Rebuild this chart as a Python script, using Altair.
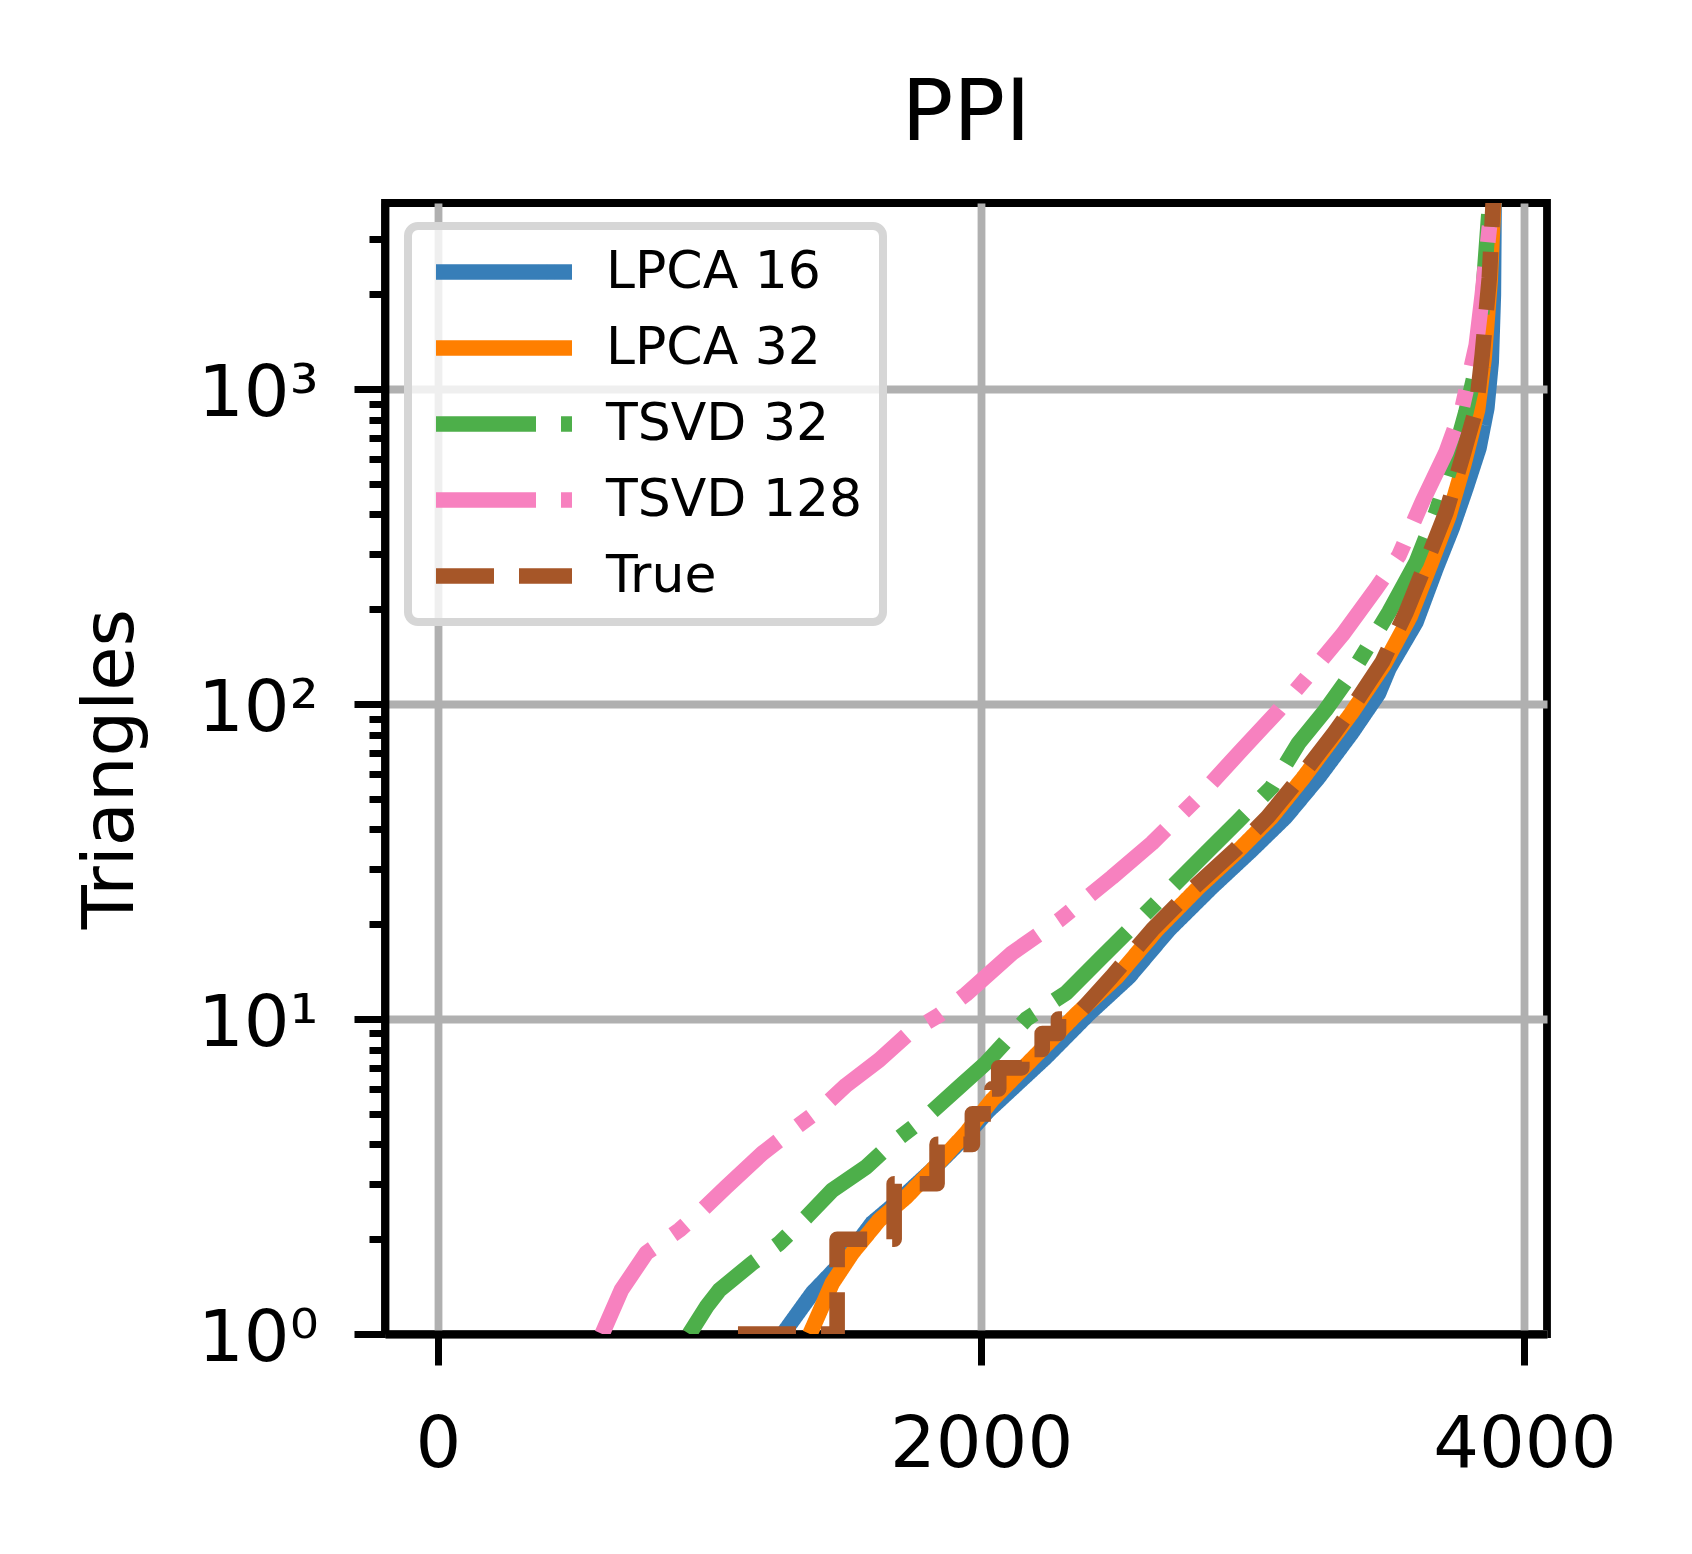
import altair as alt
import pandas as pd

# ---------------- data ----------------
series_names = ["LPCA 16", "LPCA 32", "TSVD 32", "TSVD 128", "True"]
series_colors = ["#377eb8", "#ff7f00", "#4daf4a", "#f781bf", "#a65628"]
series_dashes = [[1, 0], [1, 0], [100, 25, 16, 25], [100, 25, 16, 25], [58, 25]]

lpca16_x = [1270, 1379, 1504, 1599, 1699, 1820, 1930, 2029, 2239, 2397, 2544, 2691,
            2849, 2996, 3121, 3243, 3364, 3463, 3502, 3601, 3675, 3734, 3785, 3833,
            3862, 3878, 3886, 3889]
lpca16_y = [1.0, 1.35, 1.75, 2.25, 2.66, 3.32, 4.13, 5.14, 7.57, 10.4, 13.6, 19.2,
            26.2, 34.4, 43.8, 58.6, 80.9, 108, 130, 182, 270, 362, 485, 650,
            871, 1218, 1988, 4200]

lpca32_x = [1370, 1452, 1526, 1625, 1724, 1820, 1945, 2040, 2195, 2353, 2500, 2647,
            2801, 2949, 3070, 3188, 3309, 3365, 3485, 3580, 3655, 3722, 3778, 3828,
            3852, 3874, 3889]
lpca32_y = [1.0, 1.45, 1.81, 2.30, 2.72, 3.32, 4.35, 5.53, 7.57, 10.4, 13.6, 19.2,
            26.2, 34.4, 43.8, 58.6, 80.9, 94, 134, 190, 278, 395, 580, 860,
            1250, 2200, 4200]

tsvd32_x = [926, 989, 1037, 1158, 1257, 1357, 1452, 1577, 1673, 1798, 1919, 2018,
            2167, 2313, 2434, 2581, 2702, 2827, 2949, 3070, 3169, 3268, 3364, 3502,
            3602, 3675, 3734, 3785, 3833, 3852, 3871, 3880]
tsvd32_y = [1.0, 1.22, 1.38, 1.68, 1.94, 2.35, 2.86, 3.39, 4.04, 4.89, 6.08, 7.25,
            10.0, 12.1, 15.4, 20.6, 26.2, 33.6, 42.8, 54.5, 75.2, 95.7, 125, 196,
            282, 407, 587, 845, 1282, 2250, 3755, 4500]

tsvd128_x = [605, 676, 768, 890, 974, 1062, 1195, 1305, 1404, 1504, 1625, 1735,
             1846, 1945, 2114, 2287, 2482, 2629, 2790, 2949, 3096, 3197, 3330, 3455,
             3539, 3624, 3712, 3771, 3823, 3845, 3871, 3882, 3889]
tsvd128_y = [1.0, 1.38, 1.81, 2.14, 2.48, 2.93, 3.75, 4.44, 5.14, 6.17, 7.41, 9.03,
             10.3, 12.0, 16.2, 20.6, 28.2, 36.2, 49.6, 69.9, 95.7, 121, 166, 233,
             297, 438, 631, 871, 1380, 1988, 3245, 3755, 4500]

true_x = [1105, 1470, 1470, 1680, 1680, 1838, 1838, 1968, 1968, 2040, 2040, 2065,
          2065, 2150, 2150, 2225, 2225, 2285, 2285, 2340, 2480, 2630, 2785, 2935,
          3055, 3175, 3300, 3355, 3477, 3565, 3639, 3712, 3771, 3823, 3845, 3871, 3889]
true_y = [1, 1, 2, 2, 3, 3, 4, 4, 5, 5, 6, 6,
          7, 7, 8, 8, 9, 9, 10, 10, 13.6, 19.2, 26.2, 34.4,
          43.8, 58.6, 80.9, 94.3, 136, 196, 282, 407, 604, 871, 1282, 2250, 4500]

x_ticks = [0, 2000, 4000]
y_ticks = [1, 2, 3, 4, 5, 6, 7, 8, 9,
           10, 20, 30, 40, 50, 60, 70, 80, 90,
           100, 200, 300, 400, 500, 600, 700, 800, 900,
           1000, 2000, 3000]
y_major = [1, 10, 100, 1000]
y_major_labels = ["10⁰", "10¹", "10²", "10³"]

chart_title = "PPI"
y_title = "Triangles"

# ---------------- build table ----------------
series_xy = [(lpca16_x, lpca16_y), (lpca32_x, lpca32_y), (tsvd32_x, tsvd32_y),
             (tsvd128_x, tsvd128_y), (true_x, true_y)]
rows = []
for name, (xs, ys) in zip(series_names, series_xy):
    for i, (xv, yv) in enumerate(zip(xs, ys)):
        rows.append({"series": name, "x": xv, "y": yv, "i": i})
df = pd.DataFrame(rows)

FONT = "DejaVu Sans"
W, H = 1162, 1131
major_test = " || ".join(f"datum.value == {v}" for v in y_major)
label_expr = " : ".join(f"datum.value == {v} ? '{t}'" for v, t in zip(y_major, y_major_labels)) + " : ''"

legend = alt.Legend(
    orient="none", legendX=23, legendY=23, title=None,
    symbolType="stroke", symbolSize=18496, symbolStrokeWidth=15.6,
    labelFontSize=52, labelFont=FONT, labelColor="black", labelOffset=26,
    labelLimit=600, clipHeight=52, rowPadding=24, padding=20,
    fillColor="rgba(255,255,255,0.8)", strokeColor="#d6d6d6", cornerRadius=10,
    symbolOpacity=1,
)

x_enc = alt.X(
    "x:Q",
    scale=alt.Scale(domain=[-194.5, 4083.5], nice=False, zero=False),
    axis=alt.Axis(
        values=x_ticks, title=None, format="d", grid=True, gridColor="#b0b0b0",
        gridWidth=7.8, tickSize=31, tickWidth=7, tickColor="black",
        domain=True, domainColor="black", domainWidth=7.8,
        labelFont=FONT, labelFontSize=72, labelColor="black", labelPadding=44,
        labelFlush=False, labelOverlap=False, labelLimit=500,
    ),
)
y_enc = alt.Y(
    "y:Q",
    scale=alt.Scale(type="log", domain=[1, 3900], nice=False),
    axis=alt.Axis(
        values=y_ticks, title=y_title, labelExpr=label_expr,
        grid=True, gridColor="#b0b0b0", gridWidth=7.8,
        gridOpacity={"condition": {"test": major_test, "value": 1}, "value": 0},
        tickSize={"condition": {"test": major_test, "value": 31}, "value": 16},
        tickWidth=7, tickColor="black",
        domain=True, domainColor="black", domainWidth=7.8,
        labelFont=FONT, labelFontSize=72, labelColor="black", labelPadding=36,
        labelOffset=4, labelOverlap=False, labelBound=False, labelFlush=False,
        labelLimit=500,
        titleFont=FONT, titleFontSize=72, titleFontWeight="normal", titleColor="black",
        titleX=-253, titleY=H / 2, titleAngle=270, titleAlign="center",
        titleBaseline="alphabetic",
    ),
)

base = alt.Chart(df).mark_line(
    strokeWidth=15.6, clip=True, strokeCap="butt", strokeJoin="round"
).encode(
    x=x_enc,
    y=y_enc,
    color=alt.Color("series:N", scale=alt.Scale(domain=series_names, range=series_colors), legend=legend),
    strokeDash=alt.StrokeDash("series:N", scale=alt.Scale(domain=series_names, range=series_dashes), legend=legend),
    order=alt.Order("i:Q"),
)

layers = [base.transform_filter(alt.datum.series == s) for s in series_names]

chart = alt.layer(*layers).properties(
    width=W, height=H,
    title=alt.TitleParams(chart_title, font=FONT, fontSize=86, fontWeight="normal",
                          color="black", anchor="middle", frame="group",
                          baseline="alphabetic", offset=-23),
    autosize=alt.AutoSizeParams(type="none"),
    padding={"left": 377, "top": 195, "right": 130, "bottom": 200},
    background="white",
).configure_view(
    stroke="black", strokeWidth=7.8
).configure_legend(
    strokeWidth=8
)

chart.save("out.html", embed_options={"renderer": "svg", "actions": False})
